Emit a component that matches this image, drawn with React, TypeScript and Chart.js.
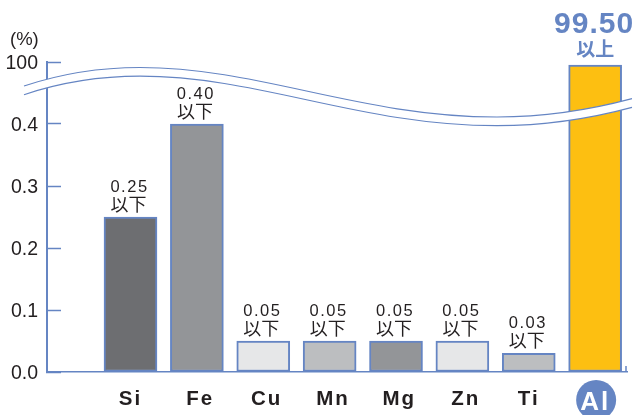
import React, { useEffect, useRef } from "react";
import { Chart, registerables } from "chart.js";

Chart.register(...registerables);

const categories = ["Si", "Fe", "Cu", "Mn", "Mg", "Zn", "Ti", "Al"];
const values = [0.25, 0.4, 0.05, 0.05, 0.05, 0.05, 0.03, 99.5];
const valueLabels = ["0.25", "0.40", "0.05", "0.05", "0.05", "0.05", "0.03", "99.50"];
const limitLabels = ["以下", "以下", "以下", "以下", "以下", "以下", "以下", "以上"];
const barColors = ["#6d6e71", "#939598", "#e6e7e8", "#bcbec0", "#939598", "#e6e7e8", "#bcbec0", "#fdbf11"];
const yTickValues = [0, 0.1, 0.2, 0.3, 0.4, 0.5];

const BLUE = "#6585c3";
const INK = "#231f20";
const SANS = '"Liberation Sans", Arial, sans-serif';
const CJK = '"Noto Sans CJK JP", sans-serif';

// The axis is broken above 0.4: the slot at 0.5 stands for 100.
const toAxis = (v: number) => (v <= 0.4 ? v : 0.5 - (100 - v) * 0.01);

// Middle labels sit slightly right of their bars in the reference.
const labelNudge = (i: number) => (i >= 1 && i <= 5 ? 0.05 : 0);

const setSpacing = (ctx: any, s: string) => {
  ctx.letterSpacing = s;
};

const decorPlugin = {
  id: "decor",
  beforeDraw(chart: any) {
    const { ctx, scales } = chart;
    const xs = scales.x;
    const ys = scales.y;
    if (!xs.__patched) {
      const origX = xs.drawLabels;
      xs.drawLabels = function (area: any) {
        setSpacing(ctx, "2px");
        origX.call(xs, area);
        setSpacing(ctx, "0px");
      };
      const origY = ys.drawLabels;
      ys.drawLabels = function (area: any) {
        ctx.save();
        ctx.translate(0, 2);
        origY.call(ys, area);
        ctx.restore();
      };
      xs.__patched = true;
    }
    // badge behind the last category label
    ctx.save();
    ctx.fillStyle = BLUE;
    ctx.beginPath();
    ctx.arc(xs.getPixelForValue(categories.length - 1) + 1, chart.chartArea.bottom + 28, 20, 0, Math.PI * 2);
    ctx.fill();
    ctx.fillStyle = INK;
    ctx.font = `18.5px ${SANS}`;
    ctx.textAlign = "left";
    ctx.textBaseline = "alphabetic";
    ctx.fillText("(%)", 10, 45);
    ctx.restore();
  },
  afterDatasetsDraw(chart: any) {
    const { ctx, chartArea: a, scales } = chart;
    const L = a.left;
    const T = a.top;
    const path = (dy: number) => {
      ctx.moveTo(L - 23, T + 24 + dy);
      ctx.bezierCurveTo(L + 13, T + 12 + dy, L + 53, T + 5.5 + dy, L + 93, T + 5.5 + dy);
      ctx.bezierCurveTo(L + 213, T + 5.5 + dy, L + 313, T + 55 + dy, L + 450, T + 55 + dy);
      ctx.bezierCurveTo(L + 498, T + 55 + dy, L + 543, T + 48 + dy, L + 585, T + 36.7 + dy);
    };
    ctx.save();
    ctx.strokeStyle = "#ffffff";
    ctx.lineWidth = 8.7;
    ctx.beginPath();
    path(4.35);
    ctx.stroke();
    ctx.strokeStyle = BLUE;
    ctx.lineWidth = 1.2;
    ctx.beginPath();
    path(0);
    ctx.stroke();
    ctx.beginPath();
    path(8.7);
    ctx.stroke();

    // small end tick of the base line
    ctx.lineWidth = 1.5;
    ctx.beginPath();
    ctx.moveTo(a.right - 1, a.bottom);
    ctx.lineTo(a.right - 1, a.bottom - 6);
    ctx.stroke();

    // value labels
    ctx.textAlign = "center";
    ctx.textBaseline = "alphabetic";
    values.forEach((v, i) => {
      const x = scales.x.getPixelForValue(i);
      const top = scales.y.getPixelForValue(toAxis(v));
      const last = i === values.length - 1;
      if (last) {
        ctx.fillStyle = BLUE;
        ctx.font = `bold 30px ${SANS}`;
        setSpacing(ctx, "1px");
        ctx.fillText(valueLabels[i], x - 1, top - 32);
        setSpacing(ctx, "0px");
        ctx.font = `bold 19px ${CJK}`;
        ctx.fillText(limitLabels[i], x, top - 9);
      } else {
        ctx.fillStyle = INK;
        ctx.font = `16.5px ${SANS}`;
        setSpacing(ctx, "1.5px");
        ctx.fillText(valueLabels[i], x - 1, top - 25);
        setSpacing(ctx, "0px");
        ctx.font = `18px ${CJK}`;
        ctx.fillText(limitLabels[i], x - 2, top - 6);
      }
    });
    ctx.restore();
  },
};

export default function App() {
  const ref = useRef<HTMLCanvasElement>(null);
  useEffect(() => {
    const chart = new Chart(ref.current as HTMLCanvasElement, {
      type: "bar",
      data: {
        datasets: [
          {
            data: values.map((v, i) => ({ x: i, y: toAxis(v) })),
            backgroundColor: barColors,
            borderColor: BLUE,
            borderWidth: 2,
            borderSkipped: false,
            barThickness: 53,
          },
        ],
      },
      options: {
        responsive: false,
        animation: false,
        devicePixelRatio: 1,
        layout: { padding: { top: 62, right: 7, left: 0, bottom: 0 } },
        plugins: { legend: { display: false }, title: { display: false }, tooltip: { enabled: false } },
        scales: {
          x: {
            type: "linear",
            offset: false,
            min: -1.258,
            max: 7.48,
            afterBuildTicks: (s: any) => {
              s.ticks = categories.map((_, i) => ({ value: i + labelNudge(i) }));
            },
            afterFit: (s: any) => {
              s.height = 43;
            },
            border: { color: BLUE, width: 1.5 },
            grid: { display: true, offset: false, drawOnChartArea: false, drawTicks: false },
            ticks: {
              autoSkip: false,
              maxRotation: 0,
              padding: 15,
              callback: (_v: any, i: number) => categories[i],
              color: (c: any) => (c.index === categories.length - 1 ? "#ffffff" : INK),
              font: (c: any) =>
                c.index === categories.length - 1
                  ? { family: SANS, size: 26, weight: "bold" }
                  : { family: SANS, size: 20.5, weight: "bold" },
            },
          },
          y: {
            type: "linear",
            min: 0,
            max: 0.5,
            afterBuildTicks: (s: any) => {
              s.ticks = yTickValues.map((value) => ({ value }));
            },
            afterFit: (s: any) => {
              s.width = 47;
            },
            border: { color: BLUE, width: 2 },
            grid: { drawOnChartArea: false, drawTicks: true, tickLength: -14, tickWidth: 1.5, tickColor: BLUE },
            ticks: {
              padding: 23,
              color: INK,
              font: { family: SANS, size: 19.5 },
              callback: (v: any) => (v === 0.5 ? "100" : Number(v).toFixed(1)),
            },
          },
        },
      },
      plugins: [decorPlugin],
    } as any);
    return () => chart.destroy();
  }, []);
  return (
    <canvas
      ref={ref}
      width={634}
      height={415}
      style={{ position: "absolute", left: 0, top: 0, width: 634, height: 415, background: "#fff" }}
    />
  );
}
